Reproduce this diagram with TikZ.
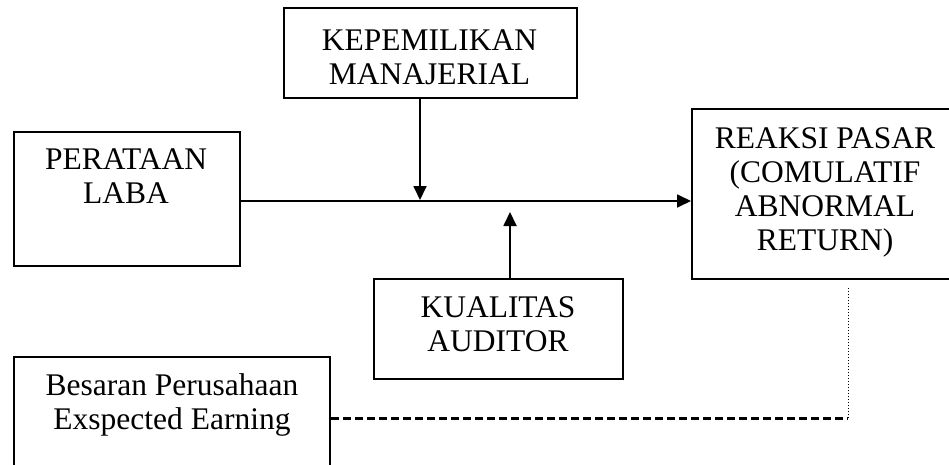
\documentclass[tikz,border=0pt]{standalone}
\usepackage{fontspec}
\setmainfont{Liberation Serif}
\usetikzlibrary{arrows.meta}
\tikzset{
  box/.style={draw, line width=2pt, inner sep=0pt, anchor=north west},
  txt/.style={align=center, anchor=north, inner sep=0pt, font=\fontsize{31.5}{34}\selectfont},
  arr/.style={-{Triangle[length=14pt,width=13pt]}, line width=1.8pt}
}
\begin{document}
\begin{tikzpicture}[x=1pt,y=-1pt]
\clip (0,0) rectangle (949,465);
% Boxes
\node[box, minimum width=226pt, minimum height=134pt] (laba) at (13,131) {};
\node[box, minimum width=293pt, minimum height=90pt] (kepemilikan) at (283,7) {};
\node[box, minimum width=270pt, minimum height=170pt] (reaksi) at (691,108) {};
\node[box, minimum width=249pt, minimum height=100pt] (kualitas) at (373,278) {};
\node[box, minimum width=316pt, minimum height=130pt] (besaran) at (13,356) {};
% Texts
\node[txt] (laba text) at (126,149) {PERATAAN\\LABA};
\node[txt] (kepemilikan text) at (429.5,30) {KEPEMILIKAN\\MANAJERIAL};
\node[txt] (reaksi text) at (825,127) {REAKSI PASAR\\(COMULATIF\\ABNORMAL\\RETURN)};
\node[txt] (kualitas text) at (498,296) {KUALITAS\\AUDITOR};
\node[txt] (besaran text) at (172,373) {Besaran Perusahaan\\Exspected Earning};
% Connectors
\coordinate (main) at (0,201);
\coordinate (join1) at (420,200);
\coordinate (join2) at (510,212);
\coordinate (corner) at (848,418);
\coordinate (dotend) at (848,288);
\draw[arr] (laba.east |- main) -- (reaksi.west |- main);
\draw[arr] (kepemilikan.south -| join1) -- (join1);
\draw[arr] (kualitas.north -| join2) -- (join2);
\draw[line width=3pt, dash pattern=on 8pt off 4pt] (besaran.east |- corner) -- (corner);
\draw[line width=1pt, dash pattern=on 1pt off 2pt] (corner) -- (dotend);
\end{tikzpicture}
\end{document}
